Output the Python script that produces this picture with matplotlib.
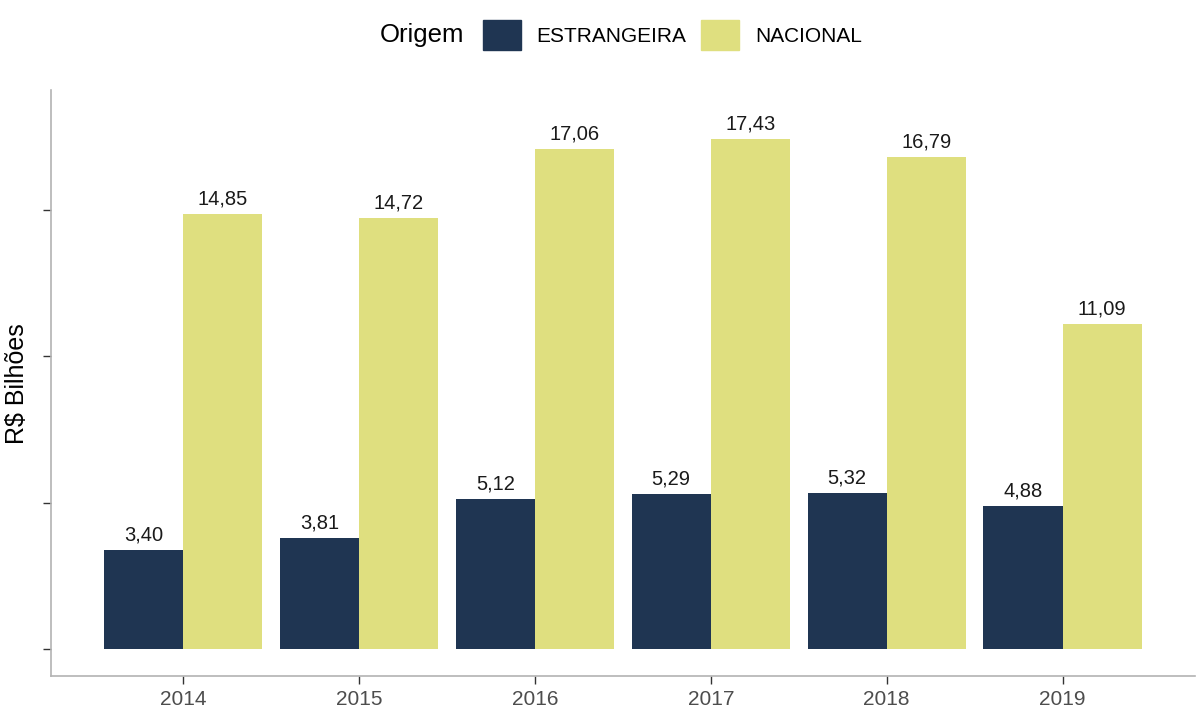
import matplotlib.pyplot as plt
import numpy as np
from matplotlib.patches import Patch

plt.rcParams['font.family'] = ['Liberation Sans', 'DejaVu Sans']

# dados
anos = ['2014', '2015', '2016', '2017', '2018', '2019']
estrangeira = [3.40, 3.81, 5.12, 5.29, 5.32, 4.88]
nacional = [14.85, 14.72, 17.06, 17.43, 16.79, 11.09]

cor_estr = '#1f3552'
cor_nac = '#dfdf7f'
cinza = '#b3b3b3'

fig = plt.figure(figsize=(12, 7.11), dpi=100)
ax = fig.add_axes([0.0425, 0.049, 0.953, 0.824])

x = np.arange(1, len(anos) + 1)
w = 0.45
b1 = ax.bar(x - w / 2, estrangeira, w, color=cor_estr)
b2 = ax.bar(x + w / 2, nacional, w, color=cor_nac)

def fmt(v):
    return f'{v:.2f}'.replace('.', ',')

for barras, vals in [(b1, estrangeira), (b2, nacional)]:
    for b, v in zip(barras, vals):
        ax.annotate(fmt(v), (b.get_x() + b.get_width() / 2, v), xytext=(0, 4),
                    textcoords='offset points', ha='center', va='bottom',
                    fontsize=14.5, color='#1a1a1a')

ax.set_xlim(0.25, 6.75)
ax.set_ylim(-0.92, 19.08)
ax.set_xticks(x)
ax.set_xticklabels(anos)
ax.set_yticks([0, 5, 10, 15])
ax.set_yticklabels([])
ax.tick_params(axis='both', length=6, width=1, color='#333333', labelsize=15,
               labelcolor='#4d4d4d', pad=4)
for s in ['top', 'right']:
    ax.spines[s].set_visible(False)
for s in ['left', 'bottom']:
    ax.spines[s].set_color(cinza)
    ax.spines[s].set_linewidth(1.2)
ax.set_ylabel('R$ Bilhões', fontsize=18, labelpad=6)

# legenda
fig.text(380 / 1200, 0.951, 'Origem', fontsize=18.5, ha='left', va='center')
handles = [Patch(color=cor_estr, label='ESTRANGEIRA'), Patch(color=cor_nac, label='NACIONAL')]
fig.legend(handles=handles, loc='center left', bbox_to_anchor=(483 / 1200, 0.951), ncol=2,
           frameon=False, fontsize=15, handlelength=1.83, handleheight=1.8,
           handletextpad=0.75, columnspacing=0.7, borderpad=0, borderaxespad=0)

plt.savefig('out.png')
